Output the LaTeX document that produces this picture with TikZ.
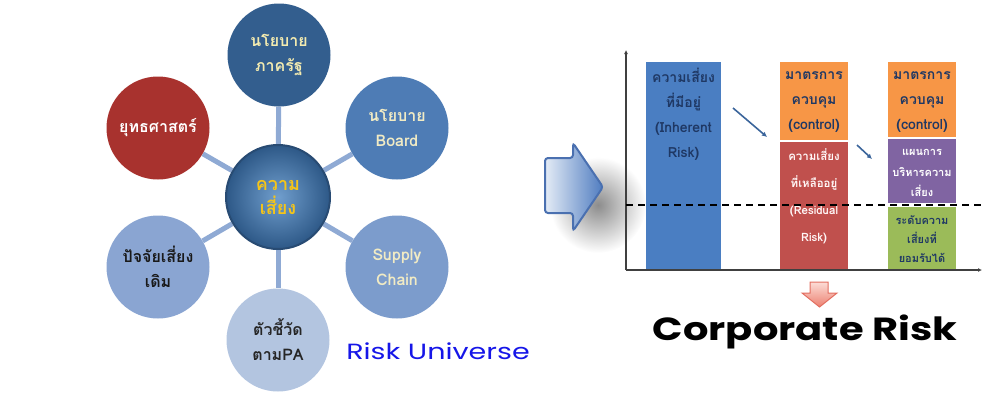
\documentclass[tikz,border=0pt]{standalone}
\usepackage{fontspec}
\setmainfont{Loma}[Script=Thai]
\newfontfamily\headfont{Poppins}
\usetikzlibrary{arrows.meta,backgrounds}
\definecolor{linkblue}{HTML}{8FAAD4}
\definecolor{navy}{HTML}{1F3864}
\definecolor{cream}{HTML}{F1EBC4}
\definecolor{barblue}{HTML}{4A7EC2}
\definecolor{barorange}{HTML}{F79646}
\definecolor{barred}{HTML}{C0504D}
\definecolor{barpurple}{HTML}{8064A2}
\definecolor{bargreen}{HTML}{9BBB59}
\begin{document}
\begin{tikzpicture}[x=1pt,y=-1pt,
  bubble/.style={circle, minimum size=103pt, inner sep=0pt, align=center, font=\bfseries\fontsize{16}{25}\selectfont},
  link/.style={draw=linkblue, line width=5pt},
  bartext/.style={align=center, inner sep=0pt},
  trend/.style={draw=barblue!80!black, line width=1.6pt, -{Latex[length=5pt,width=5pt]}},
  axis/.style={draw=black!75, line width=1.4pt, -{Latex[length=4pt,width=4pt]}}]
\useasboundingbox (0,0) rectangle (984,394);
\node [bubble, fill={rgb,255:red,51;green,94;blue,142}, text={rgb,255:red,243;green,235;blue,176}] (pol) at (279,55) {นโยบาย\\ภาครัฐ};
\node [bubble, fill={rgb,255:red,78;green,124;blue,181}, text=cream] (brd) at (397,128) {นโยบาย\\Board};
\node [bubble, fill={rgb,255:red,124;green,156;blue,204}, text=cream] (sup) at (397,267) {Supply\\Chain};
\node [bubble, fill={rgb,255:red,179;green,197;blue,224}, text=black!85] (kpi) at (278,340) {ตัวชี้วัด\\ตามPA};
\node [bubble, fill={rgb,255:red,138;green,165;blue,210}, text=black!90] (fac) at (158,267) {ปัจจัยเสี่ยง\\เดิม};
\node [bubble, fill={rgb,255:red,168;green,50;blue,46}, text=white] (str) at (158,128) {ยุทธศาสตร์};
\node [bubble, minimum size=104pt, draw={rgb,255:red,40;green,75;blue,115}, line width=2pt, inner color={rgb,255:red,112;green,158;blue,205}, outer color={rgb,255:red,45;green,88;blue,135}, text={rgb,255:red,245;green,197;blue,24}, font=\bfseries\fontsize{18}{24}\selectfont] (risk) at (278,197) {ความ\\เสี่ยง};
\begin{scope}[on background layer]
\draw [link] (risk) -- (pol);
\draw [link] (risk) -- (brd);
\draw [link] (risk) -- (sup);
\draw [link] (risk) -- (kpi);
\draw [link] (risk) -- (fac);
\draw [link] (risk) -- (str);
\end{scope}
\node [text={rgb,255:red,22;green,22;blue,232}, font=\headfont\fontsize{22}{22}\selectfont] (univ) at (438,351) {\scalebox{1.3}[1]{Risk Universe}};
\shade [inner color=black!45, outer color=white] (598,205) circle (48);
\path [draw={rgb,255:red,74;green,112;blue,176}, line width=2pt, rounded corners=3pt, left color=white!85!barblue, right color={rgb,255:red,79;green,124;blue,192}] (545,158) -- (573,158) -- (573,143) -- (603,187) -- (573,231) -- (573,213) -- (545,213) -- cycle;
\fill [barblue] (646,62) rectangle (721,270);
\fill [barorange] (780,62) rectangle (848,140);
\fill [barred] (780,142) rectangle (848,270);
\fill [barorange] (888,62) rectangle (956,137);
\fill [barpurple] (888,139) rectangle (956,203);
\fill [bargreen] (888,207) rectangle (956,270);
\node [bartext, text=navy, font=\bfseries\fontsize{14}{25}\selectfont] (inh) at (683.5,114) {ความเสี่ยง\\ที่มีอยู่\\(Inherent\\Risk)};
\node [bartext, text=navy, font=\bfseries\fontsize{14}{25}\selectfont] (ctl1) at (814,102) {มาตรการ\\ควบคุม\\(control)};
\node [bartext, text=white!85!pink, font=\bfseries\fontsize{11.5}{27}\selectfont] (res) at (814,196) {ความเสี่ยง\\ที่เหลืออยู่\\(Residual\\Risk)};
\node [bartext, text=navy, font=\bfseries\fontsize{14}{25}\selectfont] (ctl2) at (922,102) {มาตรการ\\ควบคุม\\(control)};
\node [bartext, text=white, font=\bfseries\fontsize{11}{20.5}\selectfont] (plan) at (922,173) {แผนการ\\บริหารความ\\เสี่ยง};
\node [bartext, text=navy, font=\bfseries\fontsize{11}{19}\selectfont] (acc) at (922,239) {ระดับความ\\เสี่ยงที่\\ยอมรับได้};
\coordinate (o) at (626,270);
\coordinate (ytop) at (626,50);
\coordinate (xend) at (982,270);
\draw [axis] (o) -- (ytop);
\draw [axis] (o) -- (xend);
\coordinate (dl) at (626,205);
\coordinate (dr) at (984,205);
\draw [black, line width=1.6pt, dash pattern=on 7pt off 5pt] (dl) -- (dr);
\coordinate (t1a) at (733,108);
\coordinate (t1b) at (767,137);
\coordinate (t2a) at (857,145);
\coordinate (t2b) at (872,159);
\draw [trend] (t1a) -- (t1b);
\draw [trend] (t2a) -- (t2b);
\path [draw={rgb,255:red,226;green,110;blue,96}, line width=1pt, top color={rgb,255:red,252;green,220;blue,214}, bottom color={rgb,255:red,236;green,128;blue,112}] (810,282) -- (828,282) -- (828,293) -- (837,293) -- (819.5,307) -- (802,293) -- (810,293) -- cycle;
\node [font=\headfont\bfseries\fontsize{32}{32}\selectfont] (corp) at (805,332) {\scalebox{1.25}[1]{Corporate Risk}};
\end{tikzpicture}
\end{document}
